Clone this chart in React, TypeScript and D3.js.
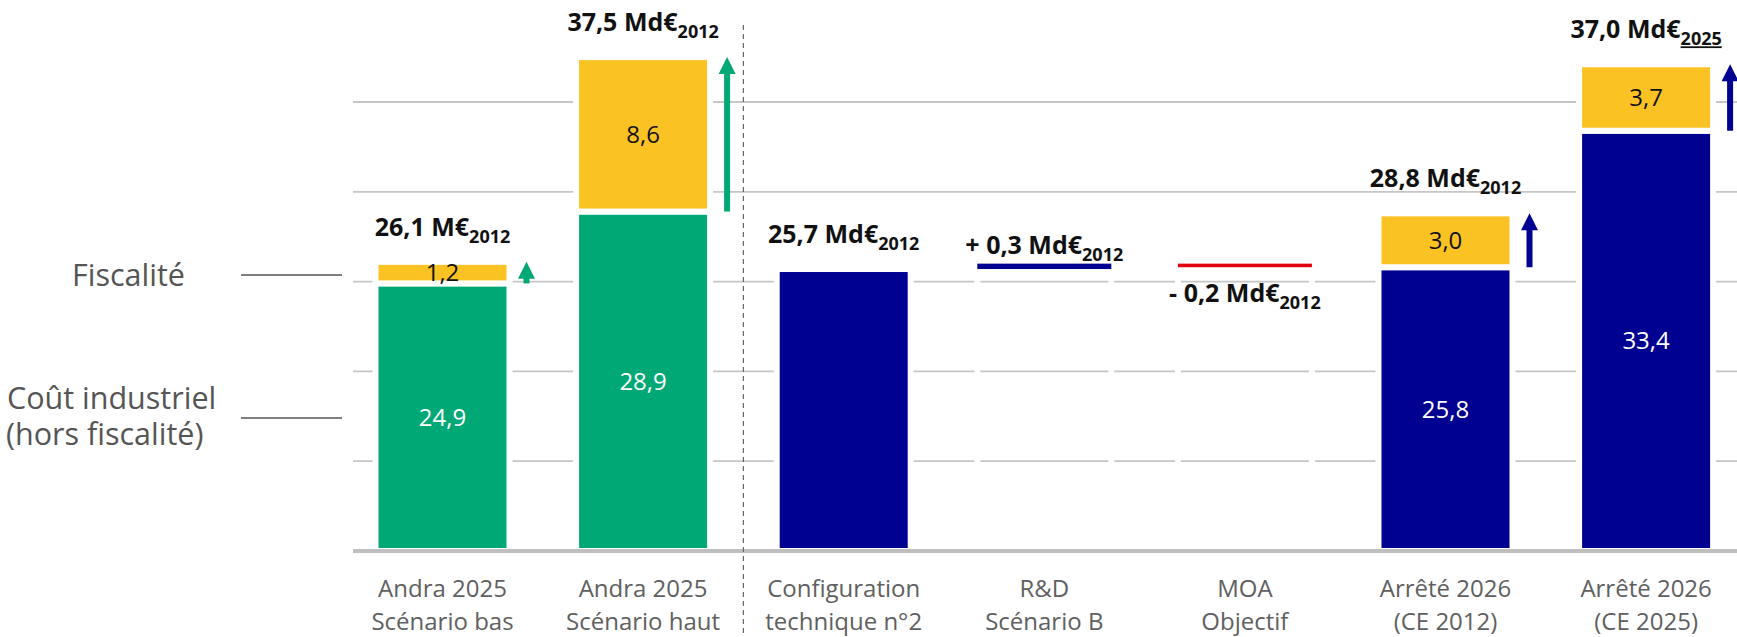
import React from "react";
import * as d3 from "d3";

// categories (two lines each)
const labelLine1 = ["Andra 2025", "Andra 2025", "Configuration", "R&D", "MOA", "Arrêté 2026", "Arrêté 2026"];
const labelLine2 = ["Scénario bas", "Scénario haut", "technique n°2", "Scénario B", "Objectif", "(CE 2012)", "(CE 2025)"];

// Md€ values
const coutIndustriel = [24.9, 28.9, 25.7, 0, 0, 25.8, 33.4];
const fiscalite = [1.2, 8.6, 0, 0, 0, 3.0, 3.7];
const variation = [0, 0, 0, 0.3, -0.2, 0, 0];

const totalText = ["26,1 M€", "37,5 Md€", "25,7 Md€", "+ 0,3 Md€", "- 0,2 Md€", "28,8 Md€", "37,0 Md€"];
const totalYear = ["2012", "2012", "2012", "2012", "2012", "2012", "2025"];
const arrowColor = ["#00a876", "#00a876", null, null, null, "#000091", "#000091"];

const yTicks = [15, 20, 25, 30, 35];

const W = 1737;
const H = 637;
const GREEN = "#00a876";
const YELLOW = "#fbc223";
const NAVY = "#000091";
const RED = "#e1000f";
const FONT = "'Open Sans', sans-serif";

export default function App() {
  const x = d3.scaleBand<number>()
    .domain(d3.range(labelLine1.length))
    .range([342.2, 1746.4])
    .paddingInner(0.332)
    .paddingOuter(0.166);
  const y = d3.scaleLinear().domain([10, 40]).range([551, 12.2]);
  const bw = x.bandwidth();

  // waterfall running level
  let running = coutIndustriel[2];
  const floats = variation.map((v) => {
    if (!v) return null;
    const lo = Math.min(running, running + v);
    const hi = Math.max(running, running + v);
    running += v;
    return { lo, hi, v, base: lo };
  });

  const sepX = (x(1)! + bw + x(2)!) / 2;

  return (
    <svg width={W} height={H} style={{ position: "absolute", left: 0, top: 0, background: "#fff" }} fontFamily={FONT}>
      {/* gridlines */}
      {yTicks.map((t) => (
        <line key={t} x1={353} x2={W} y1={y(t)} y2={y(t)} stroke="#c6c6c6" strokeWidth={1.8} />
      ))}

      {/* invisible base columns of the waterfall */}
      {floats.map((f, i) =>
        f ? (
          <rect key={"b" + i} x={x(i)} y={y(f.base)} width={bw} height={y(10) - y(f.base)}
            fill="none" stroke="#fff" strokeWidth={6} />
        ) : null
      )}

      {/* stacked bars */}
      {coutIndustriel.map((v, i) => {
        if (!v) return null;
        const fill = i < 2 ? GREEN : NAVY;
        return (
          <g key={"s" + i}>
            <rect x={x(i)} y={y(v)} width={bw} height={y(10) - y(v)} fill={fill} stroke="#fff" strokeWidth={6} />
            {fiscalite[i] > 0 && (
              <rect x={x(i)} y={y(v + fiscalite[i])} width={bw} height={y(v) - y(v + fiscalite[i])}
                fill={YELLOW} stroke="#fff" strokeWidth={6} />
            )}
          </g>
        );
      })}

      {/* floating variations */}
      {floats.map((f, i) =>
        f ? (
          <rect key={"f" + i} x={x(i)} y={y(f.hi)} width={bw} height={y(f.lo) - y(f.hi)}
            fill={f.v > 0 ? NAVY : RED} />
        ) : null
      )}

      {/* baseline */}
      <line x1={353} x2={W} y1={y(10)} y2={y(10)} stroke="#bfbfbf" strokeWidth={4} />

      {/* separator */}
      <line x1={sepX} x2={sepX} y1={25} y2={H} stroke="#666" strokeWidth={1.2} strokeDasharray="5,4" />

      {/* inner value labels */}
      {coutIndustriel.map((v, i) => {
        if (!v || !fiscalite[i]) return null;
        const cx = x(i)! + bw / 2;
        const f = fiscalite[i];
        return (
          <g key={"v" + i} fontSize={24} textAnchor="middle">
            <text x={cx} y={(y(10) + y(v)) / 2} dy="0.35em" fill="#fff">{d3.format(".1f")(v).replace(".", ",")}</text>
            <text x={cx} y={(y(v) + y(v + f)) / 2} dy="0.35em" fill="#111">{d3.format(".1f")(f).replace(".", ",")}</text>
          </g>
        );
      })}

      {/* arrows */}
      {arrowColor.map((c, i) => {
        if (!c) return null;
        const ax = x(i)! + bw + 17;
        const top = y(coutIndustriel[i] + fiscalite[i]);
        const bottom = y(coutIndustriel[i]);
        const hw = 8.5;
        const hl = 17;
        return (
          <g key={"a" + i} fill={c}>
            <rect x={ax - 3} y={top + hl - 1} width={6} height={bottom - top - hl + 1} />
            <path d={`M${ax},${top} L${ax + hw},${top + hl} L${ax - hw},${top + hl} Z`} />
          </g>
        );
      })}

      {/* total labels */}
      {totalText.map((t, i) => {
        const cx = x(i)! + bw / 2;
        let yy: number;
        if (floats[i]) {
          yy = floats[i]!.v > 0 ? y(floats[i]!.hi) - 10 : y(floats[i]!.lo) + 35;
        } else {
          yy = y(coutIndustriel[i] + fiscalite[i]) - 26;
        }
        return (
          <text key={"t" + i} x={cx} y={yy} textAnchor="middle" fontWeight={700} fontSize={25} fill="#111">
            <tspan>{t}</tspan>
            <tspan fontSize={18} dy={7} textDecoration={totalYear[i] === "2025" ? "underline" : undefined}>{totalYear[i]}</tspan>
          </text>
        );
      })}

      {/* category labels */}
      {labelLine1.map((l, i) => {
        const cx = x(i)! + bw / 2;
        return (
          <text key={"c" + i} x={cx} textAnchor="middle" fontSize={24} fill="#606060">
            <tspan x={cx} y={597}>{l}</tspan>
            <tspan x={cx} y={630}>{labelLine2[i]}</tspan>
          </text>
        );
      })}

      {/* left legend labels */}
      <g fill="#555" fontSize={30.5}>
        <text x={72} y={286}>Fiscalité</text>
        <text>
          <tspan x={7} y={409}>Coût industriel</tspan>
          <tspan x={6} y={445}>(hors fiscalité)</tspan>
        </text>
      </g>
      <line x1={241} x2={342} y1={275} y2={275} stroke="#555" strokeWidth={1.5} />
      <line x1={241} x2={342} y1={418} y2={418} stroke="#555" strokeWidth={1.5} />
    </svg>
  );
}
